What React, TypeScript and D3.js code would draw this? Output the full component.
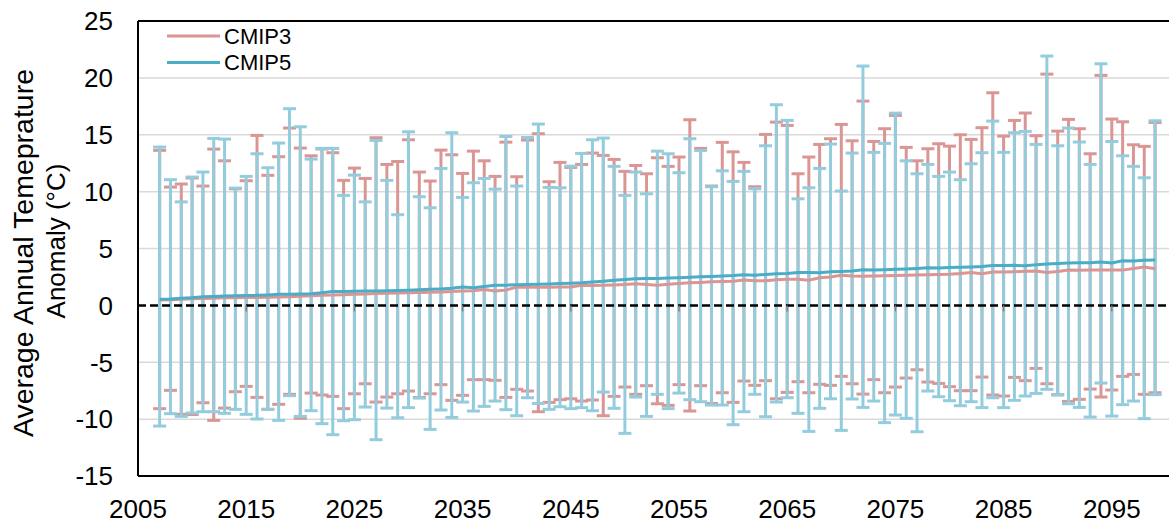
import React from "react";
import * as d3 from "d3";

// years 2007..2099, one error bar per year
const years = d3.range(2007, 2100);

const cmip3Mean = [
  0.47, 0.5, 0.54, 0.58, 0.6, 0.63, 0.66, 0.68, 0.69, 0.7,
  0.72, 0.73, 0.76, 0.8, 0.84, 0.88, 0.91, 0.94, 0.97, 1.0,
  1.04, 1.06, 1.08, 1.1, 1.13, 1.16, 1.18, 1.22, 1.27, 1.29,
  1.4, 1.26, 1.34, 1.61, 1.6, 1.59, 1.6, 1.61, 1.61, 1.76,
  1.74, 1.76, 1.8, 1.84, 1.9, 1.84, 1.76, 1.86, 1.92, 1.98,
  2.02, 2.08, 2.1, 2.12, 2.22, 2.16, 2.16, 2.26, 2.3, 2.3,
  2.22, 2.42, 2.5, 2.64, 2.58, 2.55, 2.58, 2.6, 2.62, 2.64,
  2.66, 2.7, 2.72, 2.74, 2.8, 2.9, 2.78, 2.93, 2.94, 2.96,
  3.0, 3.02, 2.9, 2.98, 3.1, 3.08, 3.1, 3.12, 3.1, 3.1,
  3.24, 3.37, 3.22,
];

const cmip5Mean = [
  0.53, 0.55, 0.62, 0.68, 0.76, 0.78, 0.82, 0.84, 0.86, 0.88,
  0.92, 0.97, 0.98, 1.0, 1.03, 1.12, 1.23, 1.22, 1.24, 1.26,
  1.27, 1.29, 1.3, 1.33, 1.37, 1.41, 1.45, 1.5, 1.61, 1.56,
  1.66, 1.76, 1.78, 1.82, 1.83, 1.86, 1.89, 1.92, 1.95, 1.99,
  2.06, 2.12, 2.2, 2.27, 2.34, 2.36, 2.37, 2.4, 2.43, 2.48,
  2.52, 2.54, 2.58, 2.62, 2.7, 2.64, 2.72, 2.78, 2.8, 2.88,
  2.88, 2.86, 2.96, 2.98, 3.02, 3.14, 3.12, 3.14, 3.18, 3.2,
  3.24, 3.3, 3.28, 3.34, 3.36, 3.38, 3.42, 3.51, 3.5, 3.52,
  3.48, 3.58, 3.64, 3.68, 3.72, 3.74, 3.74, 3.81, 3.72, 3.92,
  3.9, 3.96, 3.98,
];

const cmip3Upper = [
  13.63, 10.4, 10.67, 11.2, 10.49, 13.74, 12.71, 10.25, 10.96, 14.94,
  11.43, 13.07, 15.59, 13.83, 13.15, 13.75, 13.42, 10.99, 12.07, 11.16,
  14.74, 12.39, 12.65, 14.56, 11.72, 10.93, 13.65, 13.24, 11.6, 13.56,
  12.71, 11.34, 14.35, 11.31, 14.53, 15.09, 10.87, 12.57, 12.13, 12.39,
  13.39, 13.18, 12.83, 11.78, 12.3, 11.57, 12.98, 12.22, 13.04, 16.32,
  13.8, 10.49, 14.33, 13.5, 12.57, 10.43, 15.03, 16.11, 15.82, 11.57,
  13.04, 14.15, 14.65, 15.91, 14.47, 17.96, 14.41, 15.53, 16.7, 13.89,
  12.71, 13.77, 14.21, 14.0, 15.0, 14.59, 15.62, 18.69, 14.88, 16.26,
  16.91, 14.91, 20.33, 15.32, 16.35, 15.53, 13.33, 20.22, 16.38, 16.14,
  14.12, 13.98, 16.08,
];

const cmip3Lower = [
  -9.08, -7.47, -9.58, -9.6, -8.56, -10.11, -9.03, -7.59, -7.12, -8.09,
  -9.14, -8.7, -7.82, -9.93, -7.71, -7.88, -8.0, -9.08, -7.77, -6.89,
  -8.5, -8.06, -7.77, -7.53, -8.1, -7.77, -6.97, -8.35, -7.91, -6.53,
  -6.53, -6.59, -8.09, -7.38, -7.53, -9.35, -8.53, -8.29, -8.21, -8.41,
  -8.32, -9.7, -8.0, -7.18, -7.82, -7.06, -8.65, -8.79, -6.97, -9.29,
  -7.06, -8.62, -7.68, -8.53, -6.65, -7.03, -6.62, -8.21, -7.65, -6.71,
  -7.68, -6.94, -7.03, -6.24, -6.89, -7.8, -6.53, -7.68, -7.18, -6.39,
  -5.66, -6.74, -6.86, -7.15, -7.5, -7.5, -6.3, -7.88, -7.97, -6.33,
  -6.62, -5.54, -6.89, -7.85, -8.44, -8.26, -7.36, -8.06, -7.44, -6.24,
  -6.07, -7.82, -7.68,
];

const cmip5Upper = [
  13.92, 11.05, 9.1, 11.28, 11.72, 14.68, 14.62, 10.31, 11.34, 13.33,
  12.1, 14.27, 17.29, 15.7, 12.86, 13.8, 13.8, 9.67, 11.45, 9.1,
  14.5, 10.99, 7.97, 15.26, 9.55, 8.58, 12.04, 15.18, 9.49, 10.78,
  11.16, 10.22, 14.85, 10.49, 14.76, 15.94, 10.37, 10.34, 12.24, 13.36,
  14.56, 14.71, 12.22, 9.67, 11.72, 9.81, 13.56, 13.33, 11.66, 14.65,
  13.62, 10.43, 11.83, 10.9, 11.78, 10.25, 14.03, 17.64, 16.26, 9.37,
  10.34, 12.04, 14.18, 10.05, 13.39, 21.04, 13.45, 14.24, 16.9, 12.71,
  11.57, 12.39, 11.34, 11.72, 11.05, 12.45, 13.42, 16.2, 13.45, 15.18,
  15.29, 14.15, 21.92, 14.03, 15.59, 14.36, 12.39, 21.24, 14.41, 13.15,
  12.22, 11.22, 16.23,
];

const cmip5Lower = [
  -10.61, -9.52, -9.76, -9.46, -9.35, -9.35, -9.49, -9.14, -9.58, -9.99,
  -9.14, -10.11, -7.94, -9.76, -9.26, -10.4, -11.37, -10.14, -10.05, -8.94,
  -11.81, -9.03, -9.88, -8.99, -8.15, -10.9, -9.2, -9.85, -8.5, -9.29,
  -8.88, -8.41, -9.17, -9.7, -8.12, -8.62, -9.14, -8.91, -9.08, -8.99,
  -9.26, -7.62, -9.05, -11.25, -8.06, -9.76, -7.82, -9.08, -7.71, -8.29,
  -8.47, -8.76, -8.76, -10.49, -9.35, -7.82, -9.79, -8.5, -8.12, -9.49,
  -11.08, -9.05, -8.21, -10.99, -8.23, -8.97, -8.41, -10.31, -9.64, -9.93,
  -11.11, -7.53, -8.03, -8.38, -8.82, -8.47, -8.99, -8.12, -8.99, -8.35,
  -7.97, -7.74, -7.38, -7.88, -8.65, -8.97, -9.82, -6.83, -9.73, -8.73,
  -8.41, -9.96, -7.85,
];

const yTicks = [-15, -10, -5, 0, 5, 10, 15, 20, 25];
const xTicks = [2005, 2015, 2025, 2035, 2045, 2055, 2065, 2075, 2085, 2095];

const W = 1169;
const H = 525;
const left = 138;
const top = 21;
const bottom = 476;
const font = "'Liberation Sans', Arial, sans-serif";

const series = [
  { name: "CMIP3", mean: cmip3Mean, upper: cmip3Upper, lower: cmip3Lower, line: "#DA9694", bar: "#DA9694" },
  { name: "CMIP5", mean: cmip5Mean, upper: cmip5Upper, lower: cmip5Lower, line: "#4BACC6", bar: "#93CDDD" },
];

export default function App() {
  const x = d3.scaleLinear().domain([2005, 2100]).range([left, left + 95 * 10.82]);
  const y = d3.scaleLinear().domain([-15, 25]).range([bottom, top]);
  const line = d3
    .line<number>()
    .x((d, i) => x(years[i]))
    .y((d) => y(d));
  const cap = 6.5;

  return (
    <svg width={W} height={H} style={{ position: "absolute", left: 0, top: 0, background: "#fff" }}>
      {/* grid */}
      {yTicks
        .filter((t) => t !== 0 && t !== -15 && t !== 25)
        .map((t) => (
          <line key={t} x1={left} x2={W + 10} y1={y(t)} y2={y(t)} stroke="#D9D9D9" strokeWidth={1.5} />
        ))}

      {/* error bars, CMIP3 first so CMIP5 sits on top */}
      {series.map((s) => (
        <g key={s.name + "bars"} stroke={s.bar} strokeWidth={3}>
          {years.map((yr, i) => (
            <g key={yr}>
              <line x1={x(yr)} x2={x(yr)} y1={y(s.upper[i])} y2={y(s.lower[i])} />
              <line x1={x(yr) - cap} x2={x(yr) + cap} y1={y(s.upper[i])} y2={y(s.upper[i])} />
              <line x1={x(yr) - cap} x2={x(yr) + cap} y1={y(s.lower[i])} y2={y(s.lower[i])} />
            </g>
          ))}
        </g>
      ))}

      {/* zero axis, dashed, with ticks every 10 years */}
      <line x1={left} x2={W + 10} y1={y(0)} y2={y(0)} stroke="#000" strokeWidth={2.5} strokeDasharray="8,4" />
      {xTicks.map((t) => (
        <line key={t} x1={x(t)} x2={x(t)} y1={y(0)} y2={y(0) + 6} stroke="#808080" strokeWidth={1.5} />
      ))}

      {/* mean lines */}
      {series.map((s) => (
        <path key={s.name + "line"} d={line(s.mean) || ""} fill="none" stroke={s.line} strokeWidth={3} />
      ))}

      {/* frame */}
      <line x1={left} x2={W + 10} y1={top} y2={top} stroke="#000" strokeWidth={2} />
      <line x1={left} x2={W + 10} y1={bottom} y2={bottom} stroke="#000" strokeWidth={2} />
      <line x1={left} x2={left} y1={top} y2={bottom} stroke="#000" strokeWidth={2} />

      {/* y tick labels */}
      {yTicks.map((t) => (
        <text key={t} x={113} y={y(t)} dy="0.36em" textAnchor="end" fontFamily={font} fontSize={26} fill="#000">
          {t}
        </text>
      ))}

      {/* x tick labels */}
      {xTicks.map((t) => (
        <text key={t} x={x(t)} y={518} textAnchor="middle" fontFamily={font} fontSize={26} fill="#000">
          {t}
        </text>
      ))}

      {/* y title */}
      <text transform="translate(33,253) rotate(-90)" textAnchor="middle" fontFamily={font} fontSize={28.5} fill="#000">
        Average Annual Temeprature
      </text>
      <text transform="translate(65,241) rotate(-90)" textAnchor="middle" fontFamily={font} fontSize={26} fill="#000">
        Anomaly (°C)
      </text>

      {/* legend */}
      {series.map((s, i) => (
        <g key={s.name + "legend"}>
          <line x1={167} x2={220} y1={36 + i * 26.5} y2={36 + i * 26.5} stroke={s.line} strokeWidth={3} />
          <text x={224} y={36 + i * 26.5} dy="0.36em" fontFamily={font} fontSize={22} fill="#000">
            {s.name}
          </text>
        </g>
      ))}
    </svg>
  );
}
